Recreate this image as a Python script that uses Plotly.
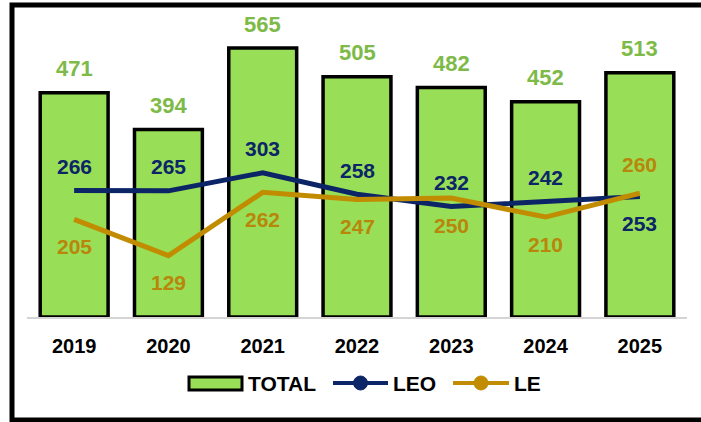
import plotly.graph_objects as go

years = ["2019", "2020", "2021", "2022", "2023", "2024", "2025"]
total = [471, 394, 565, 505, 482, 452, 513]
leo = [266, 265, 303, 258, 232, 242, 253]
le = [205, 129, 262, 247, 250, 210, 260]

# label above (1) or below (-1) the line point
leo_side = [1, 1, 1, 1, 1, 1, -1]
le_side = [-1, -1, -1, -1, -1, -1, 1]

green = "#98DE57"
green_txt = "#7DBA47"
navy = "#0B2566"
gold = "#C18C00"
gold_txt = "#B8860B"
font = "Liberation Sans Narrow, Arial Narrow, Liberation Sans, Arial"

# plot area in pixels, used to place the hand-made legend and frame
L, R, T, B = 27, 687, 10, 317


def px(x):
    return (x - L) / (R - L)


def py(y):
    return (B - y) / (B - T)


fig = go.Figure()
fig.add_bar(x=years, y=total, name="TOTAL", width=0.72,
            marker=dict(color=green, line=dict(color="black", width=3.5)))
fig.add_scatter(x=years, y=leo, mode="lines", name="LEO",
                line=dict(color=navy, width=5))
fig.add_scatter(x=years, y=le, mode="lines", name="LE",
                line=dict(color=gold, width=5))

# numeric-looking categories: place annotations by category index
for i, v in enumerate(total):
    fig.add_annotation(x=i, y=v, text=str(v), showarrow=False, yshift=24,
                       font=dict(family=font, size=22, color=green_txt, weight="bold"))
for i, (v, s) in enumerate(zip(leo, leo_side)):
    fig.add_annotation(x=i, y=v, text=str(v), showarrow=False, yshift=24 * s + (0 if s > 0 else -3),
                       font=dict(family=font, size=21, color=navy, weight="bold"))
for i, (v, s) in enumerate(zip(le, le_side)):
    fig.add_annotation(x=i, y=v, text=str(v), showarrow=False, yshift=27 * s + (0 if s < 0 else 2),
                       font=dict(family=font, size=21, color=gold_txt, weight="bold"))

# legend drawn by hand (wide bar swatch, line + ball markers)
ly = 383
fig.add_shape(type="rect", xref="paper", yref="paper",
              x0=px(189), x1=px(242), y0=py(390), y1=py(377),
              line=dict(color="black", width=3), fillcolor=green)
for x0, x1, c in [(333, 388, navy), (453, 509, gold)]:
    fig.add_shape(type="line", xref="paper", yref="paper",
                  x0=px(x0), x1=px(x1), y0=py(ly), y1=py(ly),
                  line=dict(color=c, width=4))
    xm = (x0 + x1) / 2
    fig.add_shape(type="circle", xref="paper", yref="paper",
                  x0=px(xm - 7), x1=px(xm + 7), y0=py(ly + 7), y1=py(ly - 7),
                  line=dict(color=c, width=1), fillcolor=c)
for x0, name in [(246, "TOTAL"), (391, "LEO"), (512, "LE")]:
    fig.add_annotation(xref="paper", yref="paper", x=px(x0), y=py(ly),
                       xanchor="left", yanchor="middle", text=name, showarrow=False,
                       font=dict(family=font, size=21, color="black", weight="bold"))

# outer frame (right edge runs off the page, as in the source)
fig.add_shape(type="rect", xref="paper", yref="paper",
              x0=px(12), x1=px(706), y0=py(420), y1=py(5),
              line=dict(color="black", width=5), fillcolor="rgba(0,0,0,0)")

fig.update_layout(
    width=701, height=422,
    margin=dict(l=L, r=701 - R, t=T, b=422 - B),
    plot_bgcolor="white", paper_bgcolor="white",
    font=dict(family=font, color="black"),
    showlegend=False,
    xaxis=dict(type="category", range=[-0.5, len(years) - 0.5], showline=True,
               linecolor="#D4D4D4", linewidth=2, ticks="", ticklabelstandoff=10,
               tickfont=dict(family=font, size=20, color="black", weight="bold")),
    yaxis=dict(range=[0, 645], visible=False, showgrid=False),
)

# drop the browser's default 8px page margin so the figure sits at 0,0
fig.write_html("out.html", config={"displayModeBar": False},
               post_script="document.body.style.margin='0px';")
